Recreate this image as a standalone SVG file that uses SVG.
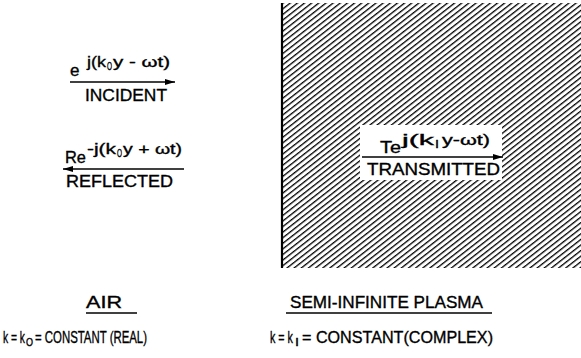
<svg xmlns="http://www.w3.org/2000/svg" width="581" height="358" viewBox="0 0 581 358">
<style>
text{font-family:"Liberation Sans",Arial,sans-serif;fill:#000;stroke:#000;stroke-width:0.35}
.lbl{font-size:17px}
.sup{font-size:15px}
.sub{font-size:11px}
.ln{stroke:#000;stroke-width:1.6;fill:none}
</style>
<defs>
<pattern id="hatch" patternUnits="userSpaceOnUse" width="10" height="4.4" patternTransform="rotate(-38)">
<rect x="0" y="0" width="10" height="1.3" fill="#000"/>
</pattern>
<marker id="ah" viewBox="0 0 10 6" refX="10" refY="3" markerWidth="10" markerHeight="6" markerUnits="userSpaceOnUse" orient="auto-start-reverse">
<path d="M0,0 L10,3 L0,6 Z" fill="#000"/>
</marker>
</defs>
<g id="plasma">
<rect x="282" y="3" width="299" height="265" fill="url(#hatch)"/>
<line x1="282" y1="3" x2="282" y2="268" stroke="#000" stroke-width="2.2"/>
</g>
<g id="incident">
<text class="lbl" x="70" y="76">e</text>
<text class="sup" x="87" y="67" textLength="19" lengthAdjust="spacingAndGlyphs">j(k</text>
<text class="sub" x="107" y="70" textLength="5" lengthAdjust="spacingAndGlyphs">O</text>
<text class="sup" x="113" y="67" textLength="57" lengthAdjust="spacingAndGlyphs">y - ωt)</text>
<text class="lbl" x="85" y="101" textLength="82" lengthAdjust="spacingAndGlyphs">INCIDENT</text>
</g>
<g id="reflected">
<text class="lbl" x="65" y="163" textLength="21" lengthAdjust="spacingAndGlyphs">Re</text>
<text class="sup" x="87" y="154" textLength="29" lengthAdjust="spacingAndGlyphs">-j(k</text>
<text class="sub" x="117" y="157" textLength="5" lengthAdjust="spacingAndGlyphs">O</text>
<text class="sup" x="123" y="154" textLength="59" lengthAdjust="spacingAndGlyphs">y + ωt)</text>
<text class="lbl" x="66" y="187" textLength="107" lengthAdjust="spacingAndGlyphs">REFLECTED</text>
</g>
<g id="transmitted">
<rect x="360" y="125" width="142" height="55" fill="#fff" stroke="none"/>
<text class="lbl" x="380" y="153" textLength="21" lengthAdjust="spacingAndGlyphs">Te</text>
<text class="sup" x="402" y="145" textLength="32" lengthAdjust="spacingAndGlyphs">j(k</text>
<text class="sub" x="435" y="148" textLength="4" lengthAdjust="spacingAndGlyphs">I</text>
<text class="sup" x="442" y="145" textLength="48" lengthAdjust="spacingAndGlyphs">y-ωt)</text>
<text class="lbl" x="367" y="175" textLength="133" lengthAdjust="spacingAndGlyphs">TRANSMITTED</text>
</g>
<g id="air">
<text class="lbl" x="86" y="308" textLength="36" lengthAdjust="spacingAndGlyphs">AIR</text>
<line x1="86" y1="313" x2="137" y2="313" class="ln"/>
<text class="lbl" x="3" y="343" textLength="22" lengthAdjust="spacingAndGlyphs">k = k</text>
<text class="sub" x="26" y="346" textLength="7" lengthAdjust="spacingAndGlyphs">O</text>
<text class="lbl" x="35" y="343" textLength="112" lengthAdjust="spacingAndGlyphs">= CONSTANT (REAL)</text>
</g>
<g id="plasma-label">
<text class="lbl" x="290" y="308" textLength="193" lengthAdjust="spacingAndGlyphs">SEMI-INFINITE PLASMA</text>
<line x1="286" y1="313" x2="492" y2="313" class="ln"/>
<text class="lbl" x="270" y="343" textLength="23" lengthAdjust="spacingAndGlyphs">k = k</text>
<text class="sub" x="295" y="346" textLength="4" lengthAdjust="spacingAndGlyphs">I</text>
<text class="lbl" x="302" y="343" textLength="191" lengthAdjust="spacingAndGlyphs">= CONSTANT(COMPLEX)</text>
</g>
<g id="connectors">
<line x1="70" y1="82" x2="175" y2="82" class="ln" marker-end="url(#ah)"/>
<line x1="63" y1="169" x2="184" y2="169" class="ln" marker-start="url(#ah)"/>
<line x1="362" y1="157" x2="503" y2="157" class="ln" marker-end="url(#ah)"/>
</g>
</svg>
